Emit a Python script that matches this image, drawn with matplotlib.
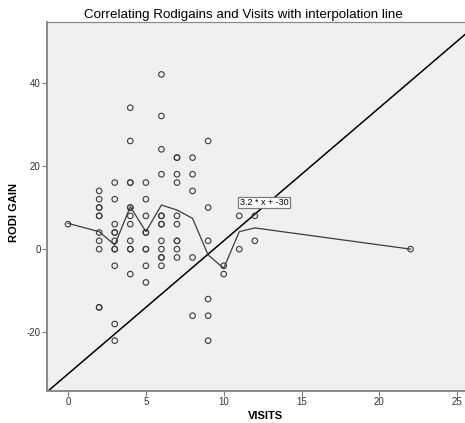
#!/usr/bin/env python3

import numpy as np
import matplotlib

matplotlib.use("Agg")
import matplotlib.pyplot as plt

plt.rcParams["font.family"] = ["Liberation Sans", "DejaVu Sans"]
plt.rcParams["axes.unicode_minus"] = False

# visits per column and the rodi gains observed at that visit count
visits_cols = [0, 2, 3, 4, 5, 6, 7, 8, 9, 10, 11, 12, 22]
gains_cols = [
    [6],
    [14, 12, 10, 10, 8, 8, 4, 2, 0, -14, -14],
    [16, 12, 6, 4, 4, 2, 0, 0, -4, -18, -22],
    [34, 26, 16, 16, 10, 10, 8, 6, 2, 0, 0, -6],
    [16, 12, 8, 4, 4, 0, 0, -4, -8],
    [42, 32, 24, 18, 8, 8, 6, 6, 2, 0, -2, -2, -4],
    [22, 22, 18, 16, 8, 6, 2, 2, 0, -2],
    [22, 18, 14, -2, -16],
    [26, 10, 2, -12, -16, -22],
    [-4, -6],
    [8, 0],
    [8, 2],
    [0],
]

# interpolation (loess) line
loess_x = [0, 2, 3, 4, 5, 6, 7, 8, 9, 10, 11, 12, 22]
loess_y = [6.2, 4.2, 1.0, 10.2, 4.2, 10.6, 9.4, 7.4, -1.4, -4.6, 4.2, 5.1, 0.0]

# fitted line y = slope * x + intercept
slope, intercept = 3.2, -30
fit_label = "3.2 * x + -30"

x_ticks = [0, 5, 10, 15, 20, 25]
y_ticks = [-20, 0, 20, 40]


def main() -> None:
    fig = plt.figure(figsize=(4.65, 4.23), dpi=100)
    ax = fig.add_axes([47 / 465, 1 - 391 / 423, 418 / 465, 369 / 423])
    ax.set_facecolor("#f0f0f0")

    xs = np.concatenate([[v] * len(g) for v, g in zip(visits_cols, gains_cols)])
    ys = np.concatenate([np.array(g, dtype=float) for g in gains_cols])

    xlim = (-1.35, 25.5)
    ylim = (-34.1, 54.6)

    # regression line across the whole frame
    lx = np.array(xlim)
    ax.plot(lx, slope * lx + intercept, color="black", lw=1.1, zorder=2)

    ax.plot(loess_x, loess_y, color="#3c3c3c", lw=0.9, zorder=3)

    ax.scatter(
        xs,
        ys,
        s=16,
        facecolors="none",
        edgecolors="#3a3a3a",
        linewidths=0.8,
        zorder=4,
    )

    ax.text(
        11.02,
        11.2,
        fit_label,
        fontsize=6.5,
        ha="left",
        va="center",
        bbox=dict(boxstyle="square,pad=0.15", fc="white", ec="#7a7a7a", lw=0.9),
        zorder=5,
    )

    ax.set_xlim(*xlim)
    ax.set_ylim(*ylim)
    ax.set_xticks(x_ticks)
    ax.set_yticks(y_ticks)
    ax.tick_params(
        direction="out",
        length=3.5,
        width=0.8,
        color="#7a7a7a",
        labelsize=7,
        labelcolor="#333333",
        pad=1,
    )

    for side in ["left", "bottom"]:
        ax.spines[side].set_color("#8a8a8a")
        ax.spines[side].set_linewidth(1.4)
    ax.spines["top"].set_color("#8a8a8a")
    ax.spines["top"].set_linewidth(0.9)
    ax.spines["right"].set_visible(False)

    fig.text(
        243 / 465,
        1 - 15 / 423,
        "Correlating Rodigains and Visits with interpolation line",
        ha="center",
        va="center",
        fontsize=9.6,
    )
    fig.text(
        265 / 465,
        1 - 416 / 423,
        "VISITS",
        ha="center",
        va="center",
        fontsize=8,
        fontweight="bold",
    )
    fig.text(
        14 / 465,
        1 - 212 / 423,
        "RODI GAIN",
        ha="center",
        va="center",
        rotation=90,
        fontsize=8,
        fontweight="bold",
    )

    plt.savefig("out.png", dpi=100)


if __name__ == "__main__":
    main()
